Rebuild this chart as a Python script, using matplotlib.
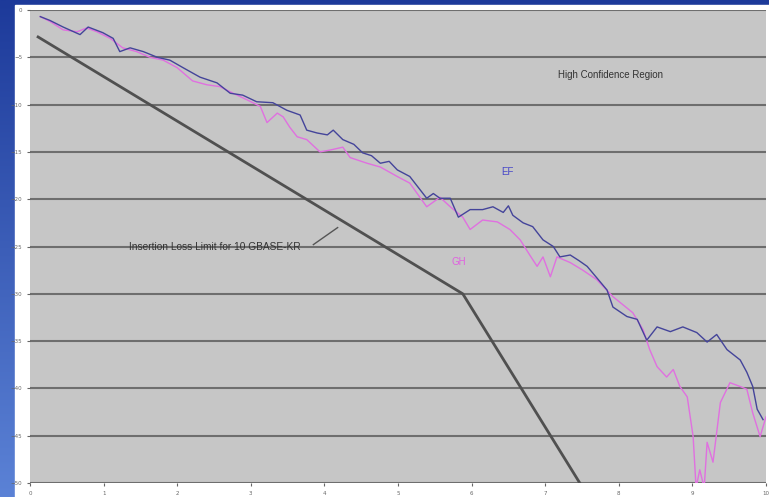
import numpy as np
import matplotlib.pyplot as plt

# Measured insertion loss (dB) vs frequency (GHz)
freq_ef = [0.14, 0.27, 0.45, 0.68, 0.79, 0.99, 1.13, 1.22, 1.36, 1.54, 1.73, 1.90,
           2.08, 2.31, 2.54, 2.72, 2.89, 3.08, 3.30, 3.49, 3.67, 3.76, 3.90, 4.04,
           4.12, 4.25, 4.40, 4.52, 4.64, 4.76, 4.88, 4.99, 5.16, 5.30, 5.39, 5.48,
           5.57, 5.71, 5.82, 5.98, 6.15, 6.29, 6.43, 6.50, 6.56, 6.70, 6.83, 6.97,
           7.11, 7.20, 7.34, 7.46, 7.57, 7.70, 7.84, 7.92, 8.11, 8.25, 8.38, 8.52,
           8.70, 8.87, 9.06, 9.20, 9.33, 9.47, 9.65, 9.74, 9.82, 9.88, 9.96]
loss_ef = [-0.7, -1.1, -1.8, -2.6, -1.8, -2.4, -3.0, -4.4, -4.0, -4.4, -5.0, -5.3,
           -6.1, -7.1, -7.7, -8.8, -9.0, -9.7, -9.8, -10.6, -11.1, -12.7, -13.0, -13.2,
           -12.7, -13.7, -14.2, -15.1, -15.4, -16.2, -16.0, -16.9, -17.6, -19.0, -19.9, -19.4,
           -19.9, -19.9, -21.9, -21.1, -21.1, -20.8, -21.4, -20.7, -21.7, -22.5, -22.9, -24.3,
           -25.0, -26.1, -25.9, -26.5, -27.1, -28.3, -29.6, -31.4, -32.4, -32.7, -34.9, -33.5,
           -34.0, -33.5, -34.1, -35.1, -34.3, -35.9, -37.0, -38.3, -39.8, -42.2, -43.3]

freq_gh = [0.14, 0.27, 0.45, 0.64, 0.77, 0.91, 1.09, 1.26, 1.45, 1.63, 1.81, 2.00,
           2.21, 2.40, 2.58, 2.76, 2.95, 3.13, 3.22, 3.36, 3.44, 3.53, 3.63, 3.76,
           3.94, 4.08, 4.25, 4.35, 4.58, 4.76, 4.99, 5.16, 5.39, 5.57, 5.71, 5.88,
           5.98, 6.15, 6.35, 6.52, 6.66, 6.79, 6.89, 6.97, 7.07, 7.16, 7.34, 7.51,
           7.70, 7.92, 8.19, 8.33, 8.42, 8.52, 8.65, 8.74, 8.83, 8.93, 9.01, 9.05,
           9.10, 9.16, 9.20, 9.28, 9.38, 9.51, 9.65, 9.74, 9.82, 9.92, 10.0]
loss_gh = [-0.7, -1.2, -2.1, -2.3, -1.9, -2.3, -3.0, -4.0, -4.4, -5.0, -5.3, -6.1,
           -7.5, -7.9, -8.1, -8.8, -9.5, -10.2, -11.9, -10.9, -11.3, -12.4, -13.4, -13.7,
           -15.0, -14.8, -14.5, -15.6, -16.2, -16.6, -17.6, -18.3, -20.8, -19.8, -20.8, -21.9,
           -23.2, -22.2, -22.4, -23.2, -24.3, -25.9, -27.1, -26.1, -28.2, -26.1, -26.7, -27.5,
           -28.5, -30.3, -32.0, -33.8, -35.9, -37.7, -38.8, -38.0, -39.8, -40.9, -45.1, -50.5,
           -48.6, -50.5, -45.7, -47.8, -41.5, -39.4, -39.8, -40.1, -42.6, -45.1, -43.0]

# 10GBASE-KR insertion loss limit (piecewise linear)
freq_lim = [0.11, 5.88, 7.47]
loss_lim = [-2.85, -30.0, -50.0]

xticks = np.arange(0, 11, 1)
yticks = np.arange(0, -55, -5)

fig = plt.figure(figsize=(7.69, 4.97), dpi=100)

# blue slide background with white panel
bg = fig.add_axes([0, 0, 1, 1])
grad = np.linspace(0, 1, 256).reshape(-1, 1) * np.ones((1, 2))
bg.imshow(grad, cmap=plt.matplotlib.colors.LinearSegmentedColormap.from_list(
    'slide', ['#1d3a9a', '#5b82d6']), aspect='auto', extent=[0, 1, 0, 1], origin='upper')
bg.add_patch(plt.Rectangle((15 / 769, 0), 1, (497 - 5) / 497, color='white'))
bg.set_xlim(0, 1)
bg.set_ylim(0, 1)
bg.axis('off')

ax = fig.add_axes([30 / 769, 14 / 497, 736 / 769, 473 / 497])
ax.set_facecolor('#c6c6c6')
ax.plot(freq_lim, loss_lim, color='#505050', lw=2)
ax.plot(freq_gh, loss_gh, color='#e070e0', lw=1)
ax.plot(freq_ef, loss_ef, color='#44449a', lw=1)

ax.set_xlim(0, 10)
ax.set_ylim(-50, 0)
ax.set_xticks(xticks)
ax.set_yticks(yticks)
ax.tick_params(labelsize=4, colors='#666666', length=2)
ax.yaxis.grid(True, color='#6e6e6e', lw=1.5)
ax.set_axisbelow(True)
for s in ax.spines.values():
    s.set_visible(False)

font = 'Liberation Sans'
ax.text(7.89, -6.9, 'High Confidence Region', fontsize=7, family=font,
        color='#333333', ha='center', va='center')
ax.text(2.51, -25.0, 'Insertion Loss Limit for 10 GBASE-KR', fontsize=7.3, family=font,
        color='#333333', ha='center', va='center')
ax.plot([3.85, 4.18], [-24.8, -23.0], color='#555555', lw=1)
ax.text(6.49, -17.1, 'EF', fontsize=7, family=font, color='#4848c8', ha='center', va='center')
ax.text(5.82, -26.6, 'GH', fontsize=7, family=font, color='#e060e0', ha='center', va='center')

plt.savefig('out.png', dpi=100)
